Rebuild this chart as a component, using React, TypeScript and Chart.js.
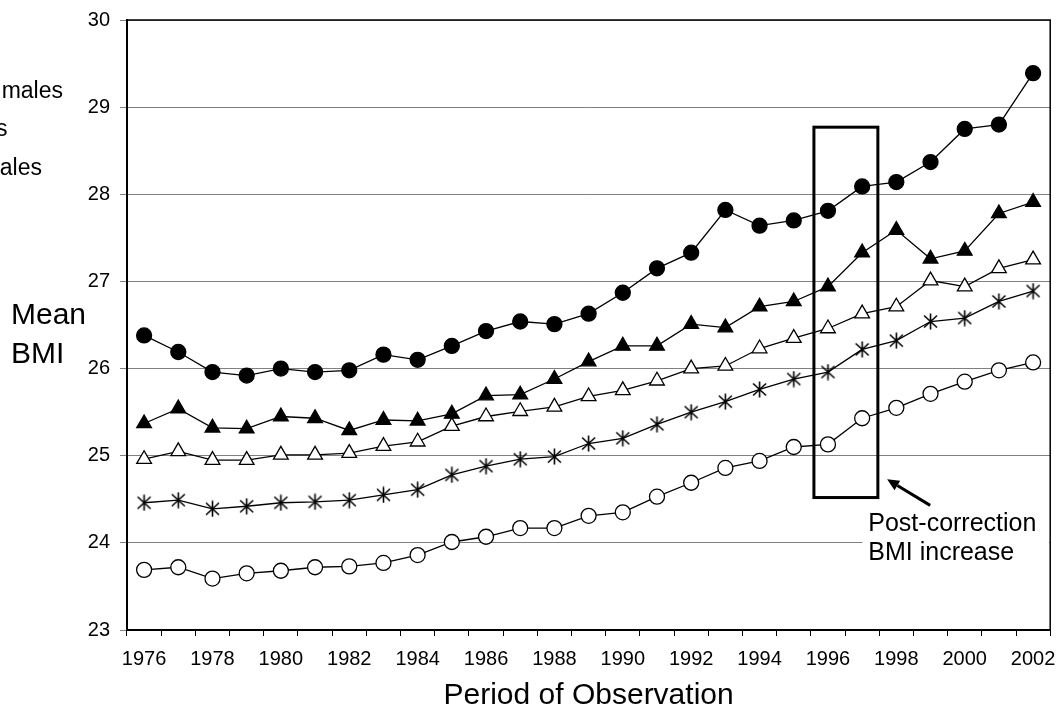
import React, { useEffect, useRef } from 'react';
import { Chart, registerables } from 'chart.js';

Chart.register(...registerables);

const YEARS = [
  '1976', '1977', '1978', '1979', '1980', '1981', '1982', '1983', '1984', '1985',
  '1986', '1987', '1988', '1989', '1990', '1991', '1992', '1993', '1994', '1995',
  '1996', '1997', '1998', '1999', '2000', '2001', '2002',
];

const FILLED_CIRCLE = [
  26.38, 26.19, 25.96, 25.92, 26.0, 25.96, 25.98, 26.16, 26.1, 26.26,
  26.43, 26.54, 26.51, 26.63, 26.87, 27.15, 27.33, 27.82, 27.64, 27.7,
  27.81, 28.09, 28.14, 28.37, 28.75, 28.8, 29.39,
];
const FILLED_TRIANGLE = [
  25.37, 25.54, 25.32, 25.31, 25.45, 25.43, 25.29, 25.41, 25.4, 25.48,
  25.69, 25.7, 25.88, 26.08, 26.26, 26.26, 26.51, 26.47, 26.71, 26.77,
  26.94, 27.33, 27.59, 27.26, 27.35, 27.78, 27.91,
];
const OPEN_TRIANGLE = [
  24.96, 25.05, 24.95, 24.95, 25.01, 25.01, 25.03, 25.11, 25.16, 25.34,
  25.45, 25.51, 25.56, 25.68, 25.75, 25.86, 26.0, 26.03, 26.23, 26.35,
  26.46, 26.63, 26.71, 27.01, 26.94, 27.15, 27.25,
];
const STAR = [
  24.46, 24.49, 24.39, 24.42, 24.46, 24.47, 24.49, 24.55, 24.61, 24.78,
  24.88, 24.96, 24.99, 25.14, 25.2, 25.36, 25.5, 25.62, 25.76, 25.88,
  25.96, 26.22, 26.32, 26.54, 26.58, 26.77, 26.89,
];
const OPEN_CIRCLE = [
  23.69, 23.72, 23.59, 23.65, 23.68, 23.72, 23.73, 23.77, 23.86, 24.01,
  24.07, 24.17, 24.17, 24.31, 24.35, 24.53, 24.69, 24.86, 24.94, 25.1,
  25.13, 25.43, 25.55, 25.71, 25.85, 25.98, 26.07,
];

const Y_MIN = 23;
const Y_MAX = 30;
const Y_STEP = 1;

// annotation in data units (x = category index, y = BMI)
const BOX_X = [19.59, 21.46];
const BOX_Y = [24.52, 28.77];
const ARROW_FROM = [22.99, 24.43];
const ARROW_TO = [21.73, 24.73];
const NOTE_LINES = ['Post-correction', 'BMI increase'];
const NOTE_POS = [21.18, 24.14, 23.8];
const Y_TITLE = ['Mean', 'BMI'];
const X_TITLE = 'Period of Observation';
const LEGEND_FRAGMENTS = ['males', 's', 'ales'];

const FONT = '"Liberation Sans", Arial, Helvetica, sans-serif';

function makeStar(): HTMLCanvasElement {
  const c = document.createElement('canvas');
  c.width = 17;
  c.height = 17;
  const g = c.getContext('2d')!;
  g.strokeStyle = '#000';
  g.lineWidth = 1.6;
  g.beginPath();
  g.moveTo(2, 2.5); g.lineTo(15, 14.5);
  g.moveTo(15, 2.5); g.lineTo(2, 14.5);
  g.moveTo(8.5, 0.5); g.lineTo(8.5, 16.5);
  g.stroke();
  return c;
}

const overlayPlugin = {
  id: 'overlay',
  afterDraw(chart: any) {
    const ctx = chart.ctx as CanvasRenderingContext2D;
    const xs = chart.scales.x;
    const ys = chart.scales.y;
    const a = chart.chartArea;
    ctx.save();

    // white background behind note
    const nx = xs.getPixelForValue(NOTE_POS[0]);
    const ny1 = ys.getPixelForValue(NOTE_POS[1]);
    const ny2 = ys.getPixelForValue(NOTE_POS[2]);
    ctx.fillStyle = '#fff';
    ctx.fillRect(nx - 6, ny1 - 24, a.right - 1 - (nx - 6), ny2 - ny1 + 32);

    // plot border
    ctx.strokeStyle = '#000';
    ctx.lineWidth = 1.5;
    ctx.strokeRect(a.left, a.top, a.right - a.left, a.bottom - a.top);

    // annotation box
    const bx0 = xs.getPixelForValue(BOX_X[0]);
    const bx1 = xs.getPixelForValue(BOX_X[1]);
    const by0 = ys.getPixelForValue(BOX_Y[0]);
    const by1 = ys.getPixelForValue(BOX_Y[1]);
    ctx.lineWidth = 3;
    ctx.strokeRect(bx0, by1, bx1 - bx0, by0 - by1);

    // arrow
    const fx = xs.getPixelForValue(ARROW_FROM[0]);
    const fy = ys.getPixelForValue(ARROW_FROM[1]);
    const tx = xs.getPixelForValue(ARROW_TO[0]);
    const ty = ys.getPixelForValue(ARROW_TO[1]);
    const ang = Math.atan2(ty - fy, tx - fx);
    const hl = 12;
    const hw = 5.5;
    const baseX = tx - Math.cos(ang) * hl;
    const baseY = ty - Math.sin(ang) * hl;
    ctx.lineWidth = 3;
    ctx.beginPath();
    ctx.moveTo(fx, fy);
    ctx.lineTo(baseX, baseY);
    ctx.stroke();
    ctx.fillStyle = '#000';
    ctx.beginPath();
    ctx.moveTo(tx, ty);
    ctx.lineTo(baseX + Math.sin(ang) * hw, baseY - Math.cos(ang) * hw);
    ctx.lineTo(baseX - Math.sin(ang) * hw, baseY + Math.cos(ang) * hw);
    ctx.closePath();
    ctx.fill();

    // note text
    ctx.fillStyle = '#000';
    ctx.textBaseline = 'alphabetic';
    ctx.textAlign = 'left';
    ctx.font = `25px ${FONT}`;
    ctx.fillText(NOTE_LINES[0], nx, ny1);
    ctx.fillText(NOTE_LINES[1], nx, ny2);

    // y title
    ctx.font = `30px ${FONT}`;
    ctx.fillText(Y_TITLE[0], 11, 324);
    ctx.fillText(Y_TITLE[1], 11, 363);

    // x title
    ctx.textAlign = 'center';
    ctx.fillText(X_TITLE, (a.left + a.right) / 2, 704);

    // cut-off legend fragments
    ctx.textAlign = 'right';
    ctx.font = `23px ${FONT}`;
    ctx.fillText(LEGEND_FRAGMENTS[0], 63, 98);
    ctx.fillText(LEGEND_FRAGMENTS[1], 7.5, 136);
    ctx.fillText(LEGEND_FRAGMENTS[2], 42, 175);

    ctx.restore();
  },
};

export default function App() {
  const ref = useRef<HTMLCanvasElement | null>(null);

  useEffect(() => {
    if (!ref.current) return;
    const star = makeStar();
    const base = {
      borderColor: '#000',
      borderWidth: 1.3,
      pointBorderColor: '#000',
      pointBorderWidth: 1.3,
      tension: 0,
      fill: false,
    };
    const chart = new Chart(ref.current, {
      type: 'line',
      data: {
        labels: YEARS,
        datasets: [
          { ...base, label: 'open circle', data: OPEN_CIRCLE, pointStyle: 'circle', pointRadius: 7.5, pointBackgroundColor: '#fff' },
          { ...base, label: 'star', data: STAR, pointStyle: star as any, pointRadius: 8 },
          { ...base, label: 'open triangle', data: OPEN_TRIANGLE, pointStyle: 'triangle', pointRadius: 8.5, pointBackgroundColor: '#fff' },
          { ...base, label: 'filled triangle', data: FILLED_TRIANGLE, pointStyle: 'triangle', pointRadius: 8.5, pointBackgroundColor: '#000' },
          { ...base, label: 'filled circle', data: FILLED_CIRCLE, pointStyle: 'circle', pointRadius: 7.5, pointBackgroundColor: '#000' },
        ],
      },
      options: {
        responsive: false,
        animation: false,
        events: [],
        layout: { padding: { top: 20, right: 6, left: 0, bottom: 0 } },
        plugins: {
          legend: { display: false },
          tooltip: { enabled: false },
        },
        scales: {
          x: {
            type: 'category',
            offset: true,
            grid: { offset: true, drawOnChartArea: false, color: '#000', tickLength: 6, lineWidth: 1 },
            border: { color: '#000', width: 2 },
            ticks: {
              autoSkip: false,
              maxRotation: 0,
              minRotation: 0,
              color: '#000',
              padding: 11,
              font: { family: FONT, size: 20 },
              callback: (_v: any, i: number) => (i % 2 === 0 ? YEARS[i] : ''),
            },
            afterFit: (s: any) => {
              s.height = 76;
              s.paddingLeft = 0;
              s.paddingRight = 0;
            },
          },
          y: {
            min: Y_MIN,
            max: Y_MAX,
            ticks: { stepSize: Y_STEP, color: '#000', padding: 10, font: { family: FONT, size: 20 } },
            grid: { color: '#808080', tickLength: 7, lineWidth: 1 },
            border: { color: '#000', width: 2 },
            afterFit: (s: any) => {
              s.width = 127;
              s.paddingTop = 0;
              s.paddingBottom = 0;
            },
          },
        },
      },
      plugins: [overlayPlugin],
    });
    return () => chart.destroy();
  }, []);

  return (
    <div style={{ position: 'fixed', left: 0, top: 0, width: 1060, height: 706, background: '#fff' }}>
      <canvas ref={ref} width={1060} height={706} style={{ width: 1060, height: 706 }} />
    </div>
  );
}
